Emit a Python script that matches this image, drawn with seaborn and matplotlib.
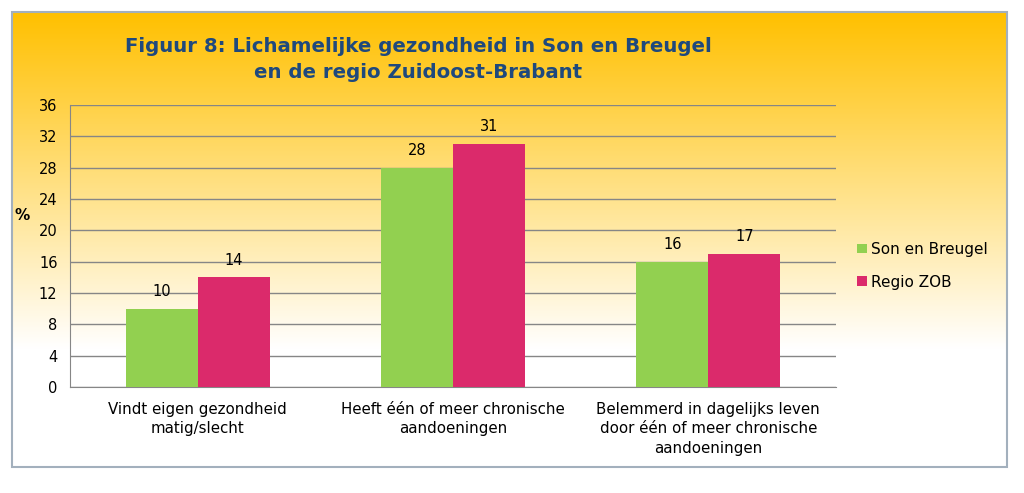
import numpy as np
import pandas as pd
import seaborn as sns
import matplotlib.pyplot as plt
from matplotlib.colors import LinearSegmentedColormap
from matplotlib.patches import Rectangle

# data
categories = ["Vindt eigen gezondheid\nmatig/slecht",
              "Heeft één of meer chronische\naandoeningen",
              "Belemmerd in dagelijks leven\ndoor één of meer chronische\naandoeningen"]
son_en_breugel = [10, 28, 16]
regio_zob = [14, 31, 17]
series = ["Son en Breugel", "Regio ZOB"]
colors = ["#92D050", "#DB2A6B"]
y_ticks = list(range(0, 37, 4))

df = pd.DataFrame({
    "categorie": categories * 2,
    "reeks": [series[0]] * 3 + [series[1]] * 3,
    "waarde": son_en_breugel + regio_zob,
})

sns.set_style("white")
plt.rcParams["font.family"] = ["DejaVu Sans"]

fig = plt.figure(figsize=(10.24, 4.93), dpi=100)

# background panel with yellow-to-white gradient
bg = fig.add_axes([0, 0, 1, 1], zorder=-1)
bg.set_xlim(0, 1024)
bg.set_ylim(493, 0)
bg.axis("off")
cmap = LinearSegmentedColormap.from_list(
    "geel", [(0, "#FFC000"), (0.74, "#FFFFFF"), (1, "#FFFFFF")])
grad = np.linspace(0, 1, 256).reshape(-1, 1)
bg.imshow(grad, cmap=cmap, aspect="auto", extent=(12, 1007, 467, 12), zorder=0)
bg.add_patch(Rectangle((12, 12), 995, 455, fill=False, edgecolor="#A3B0BD", lw=1.5, zorder=1))

ax = fig.add_axes([70 / 1024, 1 - 387 / 493, (836 - 70) / 1024, (387 - 105) / 493])
ax.patch.set_alpha(0)

sns.barplot(data=df, x="categorie", y="waarde", hue="reeks", palette=colors,
            width=0.565, saturation=1, linewidth=0, ax=ax, legend=True, zorder=3)

for cont in ax.containers:
    ax.bar_label(cont, fmt="%d", padding=7, fontsize=10.5, color="black")

ax.set_ylim(0, 36)
ax.set_yticks(y_ticks)
ax.set_xlim(-0.5, 2.5)
ax.yaxis.grid(True, color="#868686", lw=1, zorder=0)
ax.set_axisbelow(True)
for s in ["top", "right"]:
    ax.spines[s].set_visible(False)
for s in ["left", "bottom"]:
    ax.spines[s].set_color("#868686")
ax.tick_params(axis="y", length=5, color="#868686", labelsize=10.5, pad=4, labelcolor="black")
ax.tick_params(axis="x", which="major", length=0, labelsize=10.8, pad=11, labelcolor="black")
for lab in ax.get_xticklabels():
    lab.set_linespacing(1.35)
ax.set_xticks([-0.5, 0.5, 1.5, 2.5], minor=True)
ax.tick_params(axis="x", which="minor", length=6, color="#868686")
ax.set_xlabel("")
ax.set_ylabel("%", rotation=0, fontsize=11, fontweight="bold", labelpad=14, color="black")
ax.yaxis.set_label_coords(-0.063, 0.58)

leg = ax.legend(loc="center left", bbox_to_anchor=(1.01, 0.43), frameon=False,
                fontsize=11, handlelength=0.6, handleheight=0.6, handletextpad=0.3,
                labelspacing=1.15)
for t in leg.get_texts():
    t.set_color("black")

fig.text(418 / 1024, 1 - 47 / 493, "Figuur 8: Lichamelijke gezondheid in Son en Breugel",
         ha="center", va="center", fontsize=14.2, fontweight="bold", color="#1F497D")
fig.text(418 / 1024, 1 - 72 / 493, "en de regio Zuidoost-Brabant",
         ha="center", va="center", fontsize=14.2, fontweight="bold", color="#1F497D")

fig.savefig("out.png", dpi=100)
